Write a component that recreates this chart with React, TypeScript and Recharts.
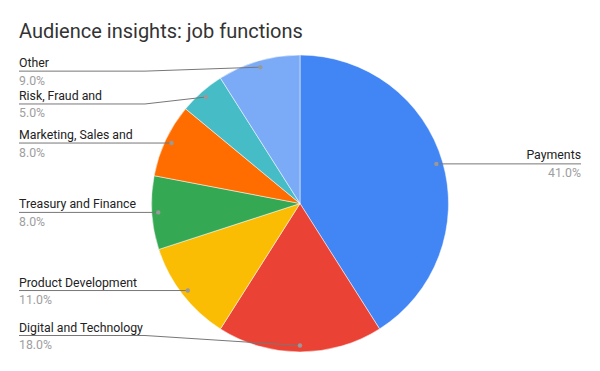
import React from 'react';
import { PieChart, Pie, Cell } from 'recharts';

const labels = [
  'Payments',
  'Digital and Technology',
  'Product Development',
  'Treasury and Finance',
  'Marketing, Sales and',
  'Risk, Fraud and',
  'Other',
];
const shares = [41, 18, 11, 8, 8, 5, 9];
const colors = ['#4285F4', '#EA4335', '#FBBC04', '#34A853', '#FF6D01', '#46BDC6', '#7BAAF7'];

const data = labels.map((name, i) => ({ name, value: shares[i] }));

// label rows that Google nudged away from the slice centre
const rowNudge: Record<string, number> = {
  Other: 4,
  'Risk, Fraud and': 7,
  'Digital and Technology': -10,
};

const RADIAN = Math.PI / 180;
const FONT = 'Roboto, Arial, sans-serif';
const LABEL_SIZE = 12.3;

const renderLabel = (props: any) => {
  const { cx, cy, midAngle, outerRadius, index, name, value } = props;
  const r = outerRadius - 6.5;
  const dx = cx + r * Math.cos(-midAngle * RADIAN);
  const dy = cy + r * Math.sin(-midAngle * RADIAN);
  const rowY = dy + (rowNudge[name] || 0);
  const right = dx > cx + 5;
  const pct = `${value.toFixed(1)}%`;

  if (right) {
    return (
      <g key={`lbl-${index}`}>
        <line x1={dx} y1={rowY} x2={581} y2={rowY} stroke="#777" strokeWidth={1} />
        <circle cx={dx} cy={dy} r={2.2} fill="#999" />
        <text x={581} y={rowY - 4.5} textAnchor="end" fontSize={LABEL_SIZE} fontFamily={FONT} fill="#222">
          {name}
        </text>
        <text x={581} y={rowY + 13} textAnchor="end" fontSize={LABEL_SIZE} fontFamily={FONT} fill="#9e9e9e">
          {pct}
        </text>
      </g>
    );
  }

  const straight = Math.abs(rowY - dy) < 0.5;
  const path = straight
    ? `M19,${rowY}L${dx},${dy}`
    : `M19,${rowY}L145,${rowY}L${dx},${dy}`;

  return (
    <g key={`lbl-${index}`}>
      <path d={path} stroke="#777" strokeWidth={1} fill="none" />
      <circle cx={dx} cy={dy} r={2.2} fill="#999" />
      <text x={19} y={rowY - 4} fontSize={LABEL_SIZE} fontFamily={FONT} fill="#222">
        {name}
      </text>
      <text x={19} y={rowY + 13.5} fontSize={LABEL_SIZE} fontFamily={FONT} fill="#9e9e9e">
        {pct}
      </text>
    </g>
  );
};

export default function App() {
  return (
    <div style={{ position: 'absolute', left: 0, top: 0, width: 600, height: 371, background: '#fff' }}>
      <div
        style={{
          position: 'absolute',
          left: 19,
          top: 20.7,
          fontFamily: FONT,
          fontSize: 20,
          lineHeight: '20px',
          color: '#333',
          whiteSpace: 'nowrap',
        }}
      >
        Audience insights: job functions
      </div>
      <PieChart width={600} height={371} margin={{ top: 0, right: 0, bottom: 0, left: 0 }}>
        <Pie
          data={data}
          dataKey="value"
          nameKey="name"
          cx={300}
          cy={203.5}
          outerRadius={148.5}
          startAngle={90}
          endAngle={-270}
          stroke="#fff"
          strokeWidth={0.5}
          label={renderLabel}
          labelLine={false}
          isAnimationActive={false}
        >
          {data.map((d, i) => (
            <Cell key={d.name} fill={colors[i]} />
          ))}
        </Pie>
      </PieChart>
    </div>
  );
}
